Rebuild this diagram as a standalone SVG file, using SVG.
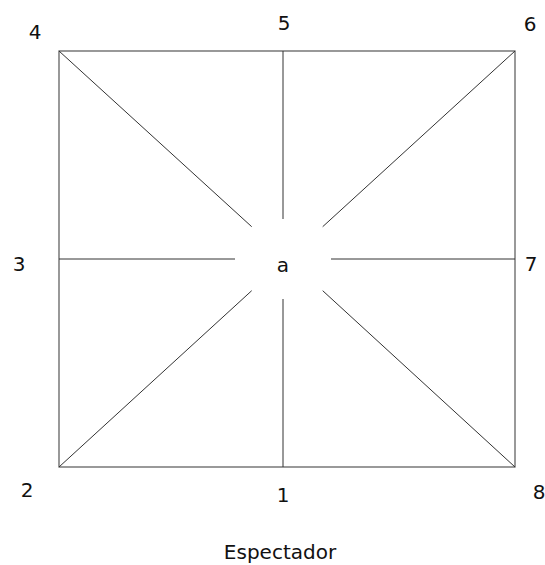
<svg xmlns="http://www.w3.org/2000/svg" width="545" height="565" viewBox="0 0 545 565">
<style>
.ln{stroke:#333;stroke-width:1;fill:none}
.bd{stroke:#555;stroke-width:1.2;fill:none}
text{font-family:"DejaVu Sans","Liberation Sans",sans-serif;font-size:20px;fill:#111;text-anchor:middle;dominant-baseline:central}
</style>
<rect width="545" height="565" fill="#fff"/>
<g id="frame"><rect class="bd" x="59" y="51" width="456" height="416"/></g>
<g id="connectors">
<line class="ln" x1="59" y1="51" x2="251.7" y2="226.7"/>
<line class="ln" x1="515" y1="51" x2="322.7" y2="226.7"/>
<line class="ln" x1="59" y1="467" x2="251.7" y2="290.7"/>
<line class="ln" x1="515" y1="467" x2="322.7" y2="290.7"/>
<line class="ln" x1="283" y1="51" x2="283" y2="219"/>
<line class="ln" x1="283" y1="299" x2="283" y2="467"/>
<line class="ln" x1="59" y1="259" x2="235" y2="259"/>
<line class="ln" x1="331" y1="259" x2="515" y2="259"/>
</g>
<g id="n4"><text x="35" y="32">4</text></g>
<g id="n5"><text x="284" y="23">5</text></g>
<g id="n6"><text x="530" y="24">6</text></g>
<g id="n3"><text x="19" y="264">3</text></g>
<g id="n7"><text x="531" y="264">7</text></g>
<g id="na"><text x="283" y="265">a</text></g>
<g id="n2"><text x="27" y="490">2</text></g>
<g id="n1"><text x="283" y="495">1</text></g>
<g id="n8"><text x="539" y="492">8</text></g>
<g id="espectador"><text x="280" y="552">Espectador</text></g>
</svg>
